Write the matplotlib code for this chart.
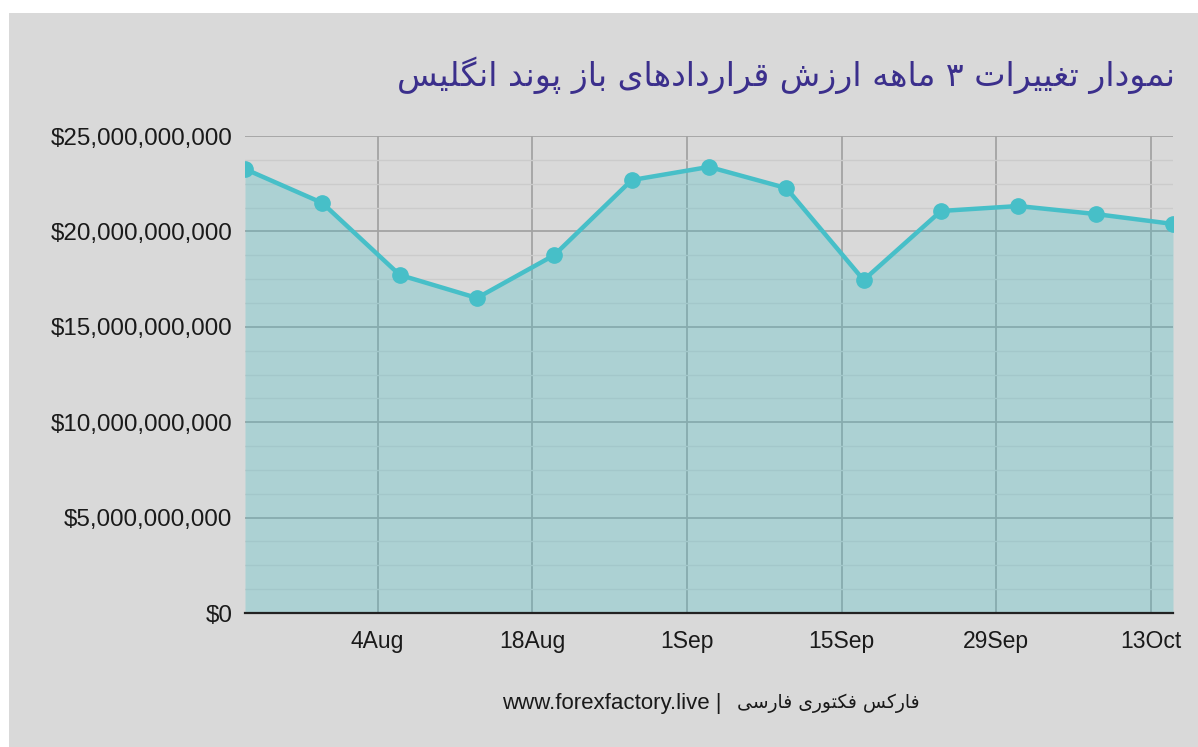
import datetime as dt
import matplotlib
matplotlib.use("Agg")
import matplotlib.pyplot as plt
import matplotlib.dates as mdates
import matplotlib.ticker as mticker
from matplotlib.patches import Rectangle

# data (weekly points, values in billions of dollars)
dates = ["2024-07-23", "2024-07-30", "2024-08-06", "2024-08-13", "2024-08-20",
         "2024-08-27", "2024-09-03", "2024-09-10", "2024-09-17", "2024-09-24",
         "2024-10-01", "2024-10-08", "2024-10-15"]
values_bn = [23.27, 21.49, 17.72, 16.51, 18.76, 22.69, 23.38,
             22.27, 17.45, 21.07, 21.33, 20.91, 20.39]
tick_dates = ["2024-08-04", "2024-08-18", "2024-09-01", "2024-09-15",
              "2024-09-29", "2024-10-13"]

title_fa = "نمودار تغییرات ۳ ماهه ارزش قراردادهای باز پوند انگلیس"
footer_fa = "فارکس فکتوری فارسی"
footer_url = "www.forexfactory.live"

BG = "#d9d9d9"
LINE = "#47bfc8"

# matplotlib has no arabic shaping, so do it by hand with presentation forms
# (isolated, final, initial, medial)
FORMS = {
    "ا": ("\uFE8D", "\uFE8E", None, None),
    "ب": ("\uFE8F", "\uFE90", "\uFE91", "\uFE92"),
    "پ": ("\uFB56", "\uFB57", "\uFB58", "\uFB59"),
    "ت": ("\uFE95", "\uFE96", "\uFE97", "\uFE98"),
    "د": ("\uFEA9", "\uFEAA", None, None),
    "ر": ("\uFEAD", "\uFEAE", None, None),
    "ز": ("\uFEAF", "\uFEB0", None, None),
    "س": ("\uFEB1", "\uFEB2", "\uFEB3", "\uFEB4"),
    "ش": ("\uFEB5", "\uFEB6", "\uFEB7", "\uFEB8"),
    "غ": ("\uFECD", "\uFECE", "\uFECF", "\uFED0"),
    "ف": ("\uFED1", "\uFED2", "\uFED3", "\uFED4"),
    "ق": ("\uFED5", "\uFED6", "\uFED7", "\uFED8"),
    "ک": ("\uFB8E", "\uFB8F", "\uFB90", "\uFB91"),
    "گ": ("\uFB92", "\uFB93", "\uFB94", "\uFB95"),
    "ل": ("\uFEDD", "\uFEDE", "\uFEDF", "\uFEE0"),
    "م": ("\uFEE1", "\uFEE2", "\uFEE3", "\uFEE4"),
    "ن": ("\uFEE5", "\uFEE6", "\uFEE7", "\uFEE8"),
    "ه": ("\uFEE9", "\uFEEA", "\uFEEB", "\uFEEC"),
    "و": ("\uFEED", "\uFEEE", None, None),
    "ی": ("\uFBFC", "\uFBFD", "\uFBFE", "\uFBFF"),
}


def shape_rtl(text):
    out = []
    n = len(text)
    for i, c in enumerate(text):
        if c not in FORMS:
            out.append(c)
            continue
        prev_joins = i > 0 and text[i - 1] in FORMS and FORMS[text[i - 1]][2] is not None
        next_joins = FORMS[c][2] is not None and i + 1 < n and text[i + 1] in FORMS
        if prev_joins and next_joins:
            out.append(FORMS[c][3])
        elif prev_joins:
            out.append(FORMS[c][1])
        elif next_joins:
            out.append(FORMS[c][2])
        else:
            out.append(FORMS[c][0])
    return "".join(out)[::-1]


x = [dt.datetime.strptime(d, "%Y-%m-%d") for d in dates]
y = [v * 1e9 for v in values_bn]
ticks = [dt.datetime.strptime(d, "%Y-%m-%d") for d in tick_dates]

fig = plt.figure(figsize=(11.98, 7.47), dpi=100, facecolor=BG)
# thin white margin at the top and left of the screenshot
fig.patches.append(Rectangle((0, 734 / 747), 1, 13 / 747, transform=fig.transFigure,
                             facecolor="white", edgecolor="none"))
fig.patches.append(Rectangle((0, 0), 9 / 1198, 1, transform=fig.transFigure,
                             facecolor="white", edgecolor="none"))

ax = fig.add_axes([245 / 1198, 1 - 613 / 747, 928 / 1198, 477 / 747])
ax.set_facecolor(BG)
ax.set_axisbelow(True)

ax.fill_between(x, y, 0, color=LINE, alpha=0.3, linewidth=0, zorder=2)
ax.plot(x, y, color=LINE, linewidth=3.2, marker="o", markersize=11, zorder=3)

ax.set_xlim(x[0], x[-1])
ax.set_ylim(0, 25e9)

ax.set_xticks(ticks)
ax.xaxis.set_major_formatter(mdates.DateFormatter("%-d%b"))
ax.yaxis.set_major_locator(mticker.MultipleLocator(5e9))
ax.yaxis.set_minor_locator(mticker.MultipleLocator(1.25e9))
ax.yaxis.set_major_formatter(mticker.FuncFormatter(lambda v, p: "${:,.0f}".format(v)))

ax.grid(axis="x", which="major", color="#a3a3a3", linewidth=1.3)
ax.grid(axis="y", which="major", color="#a3a3a3", linewidth=1.3)
ax.grid(axis="y", which="minor", color="#cbcbcb", linewidth=1.0)

for s in ["left", "right", "top"]:
    ax.spines[s].set_visible(False)
ax.spines["bottom"].set_color("#222222")
ax.spines["bottom"].set_linewidth(1.6)
ax.spines["bottom"].set_zorder(4)

ax.tick_params(axis="both", which="both", length=0, labelcolor="#1a1a1a")
ax.tick_params(axis="y", pad=9, labelsize=17.4)
ax.tick_params(axis="x", pad=12, labelsize=16.5)
for lab in ax.get_xticklabels() + ax.get_yticklabels():
    lab.set_fontfamily(["Liberation Sans", "DejaVu Sans"])

fig.text(1175 / 1198, 1 - 75 / 747, shape_rtl(title_fa), ha="right", va="center",
         fontsize=23.9, color="#3b2f8c", family="DejaVu Sans")

fig.text(722 / 1198, 1 - 703 / 747, footer_url + " |", ha="right", va="center",
         fontsize=16, color="#1a1a1a", family="Liberation Sans")
fig.text(737 / 1198, 1 - 703 / 747, shape_rtl(footer_fa), ha="left", va="center",
         fontsize=13.5, color="#1a1a1a", family="DejaVu Sans")

fig.savefig("out.png", dpi=100, facecolor=BG)
